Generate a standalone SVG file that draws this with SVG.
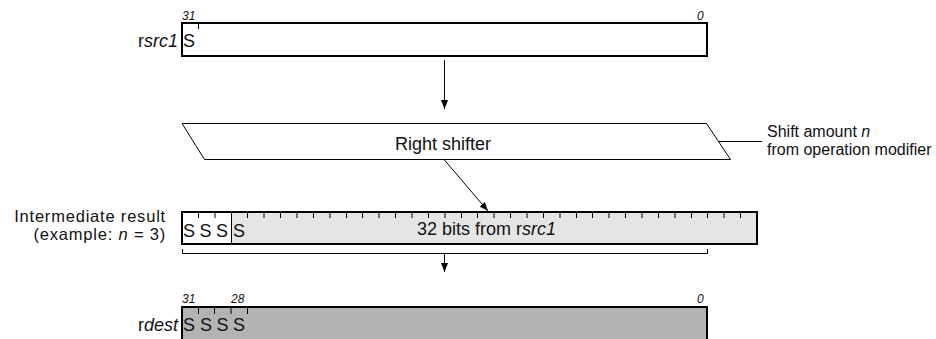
<svg xmlns="http://www.w3.org/2000/svg" width="936" height="339" viewBox="0 0 936 339">
<style>
text{font-family:"Liberation Sans",Arial,sans-serif;fill:#111;}
.lbl{font-size:18px;}
.two{font-size:16.5px;letter-spacing:0.8px;}
.side{font-size:16px;}
.bit{font-size:12px;font-style:italic;}
.it{font-style:italic;}
.box{stroke:#000;stroke-width:2;}
.thin{stroke:#000;stroke-width:1;fill:none;}
</style>
<defs>
<marker id="ah" viewBox="0 0 9 7" refX="9" refY="3.5" markerWidth="9" markerHeight="7" markerUnits="userSpaceOnUse" orient="auto">
<path d="M0,0 L9,3.5 L0,7 Z" fill="#000"/>
</marker>
</defs>
<rect width="936" height="339" fill="#fff"/>

<g id="rsrc1">
<rect class="box" x="182" y="23" width="525" height="33" fill="#fff"/>
<path class="thin" d="M198.5,23 V29"/>
<text class="bit" x="182" y="20">31</text>
<text class="bit" x="697" y="20">0</text>
<text class="lbl" x="183" y="47">S</text>
<text class="lbl" x="178" y="47" text-anchor="end">r<tspan class="it">src1</tspan></text>
</g>

<g id="shifter">
<path class="thin" d="M182,123.5 H706.5 L730.5,159.5 H204.5 Z" fill="#fff"/>
<text class="lbl" x="443" y="150" text-anchor="middle">Right shifter</text>
</g>

<g id="shift-amount">
<path class="thin" d="M718.5,141.5 H762"/>
<text class="side" x="767" y="137">Shift amount <tspan class="it">n</tspan></text>
<text class="side" x="767" y="155">from operation modifier</text>
</g>

<g id="intermediate">
<rect class="box" x="182" y="212" width="575" height="32" fill="#e5e5e5"/>
<rect x="183" y="213" width="48.3" height="30" fill="#fff"/>
<path class="thin" d="M231.5,212 V244"/>
<path class="thin" d="M198.5,213v5M215,213v5M247.5,213v5M264,213v5M280.5,213v5M297,213v5M313.5,213v5M330,213v5M346.5,213v5M362.5,213v5M379,213v5M395.5,213v5M412,213v5M428.5,213v5M445,213v5M461.5,213v5M477.5,213v5M494,213v5M510.5,213v5M527,213v5M543.5,213v5M560,213v5M576.5,213v5M592.5,213v5M609,213v5M625.5,213v5M642,213v5M658.5,213v5M675,213v5M691.5,213v5M707.5,213v5M724,213v5M740.5,213v5"/>
<text class="lbl" x="183" y="237">S</text>
<text class="lbl" x="199.5" y="237">S</text>
<text class="lbl" x="216" y="237">S</text>
<text class="lbl" x="233" y="237">S</text>
<text class="lbl" x="417" y="235">32 bits from r<tspan class="it">src1</tspan></text>
<text class="two" x="166" y="221.5" text-anchor="end">Intermediate result</text>
<text class="two" x="166" y="240" text-anchor="end">(example: <tspan class="it">n</tspan> = 3)</text>
<path class="thin" d="M182.5,249 V253.5 H707.5 V249"/>
</g>

<g id="rdest">
<rect class="box" x="182" y="307" width="525" height="40" fill="#b3b3b3"/>
<path class="thin" d="M198.5,307v7M214.5,307v7M231,307v7M247.5,307v7"/>
<text class="bit" x="182" y="303">31</text>
<text class="bit" x="231" y="303">28</text>
<text class="bit" x="697" y="303">0</text>
<text class="lbl" x="183" y="331">S</text>
<text class="lbl" x="200" y="331">S</text>
<text class="lbl" x="216.5" y="331">S</text>
<text class="lbl" x="233" y="331">S</text>
<text class="lbl" x="178" y="331" text-anchor="end">r<tspan class="it">dest</tspan></text>
</g>

<g id="connectors">
<path class="thin" d="M444.5,60 V109" marker-end="url(#ah)"/>
<path class="thin" d="M444,159.5 L488,211" marker-end="url(#ah)"/>
<path class="thin" d="M444.5,253.5 V272" marker-end="url(#ah)"/>
</g>
</svg>
